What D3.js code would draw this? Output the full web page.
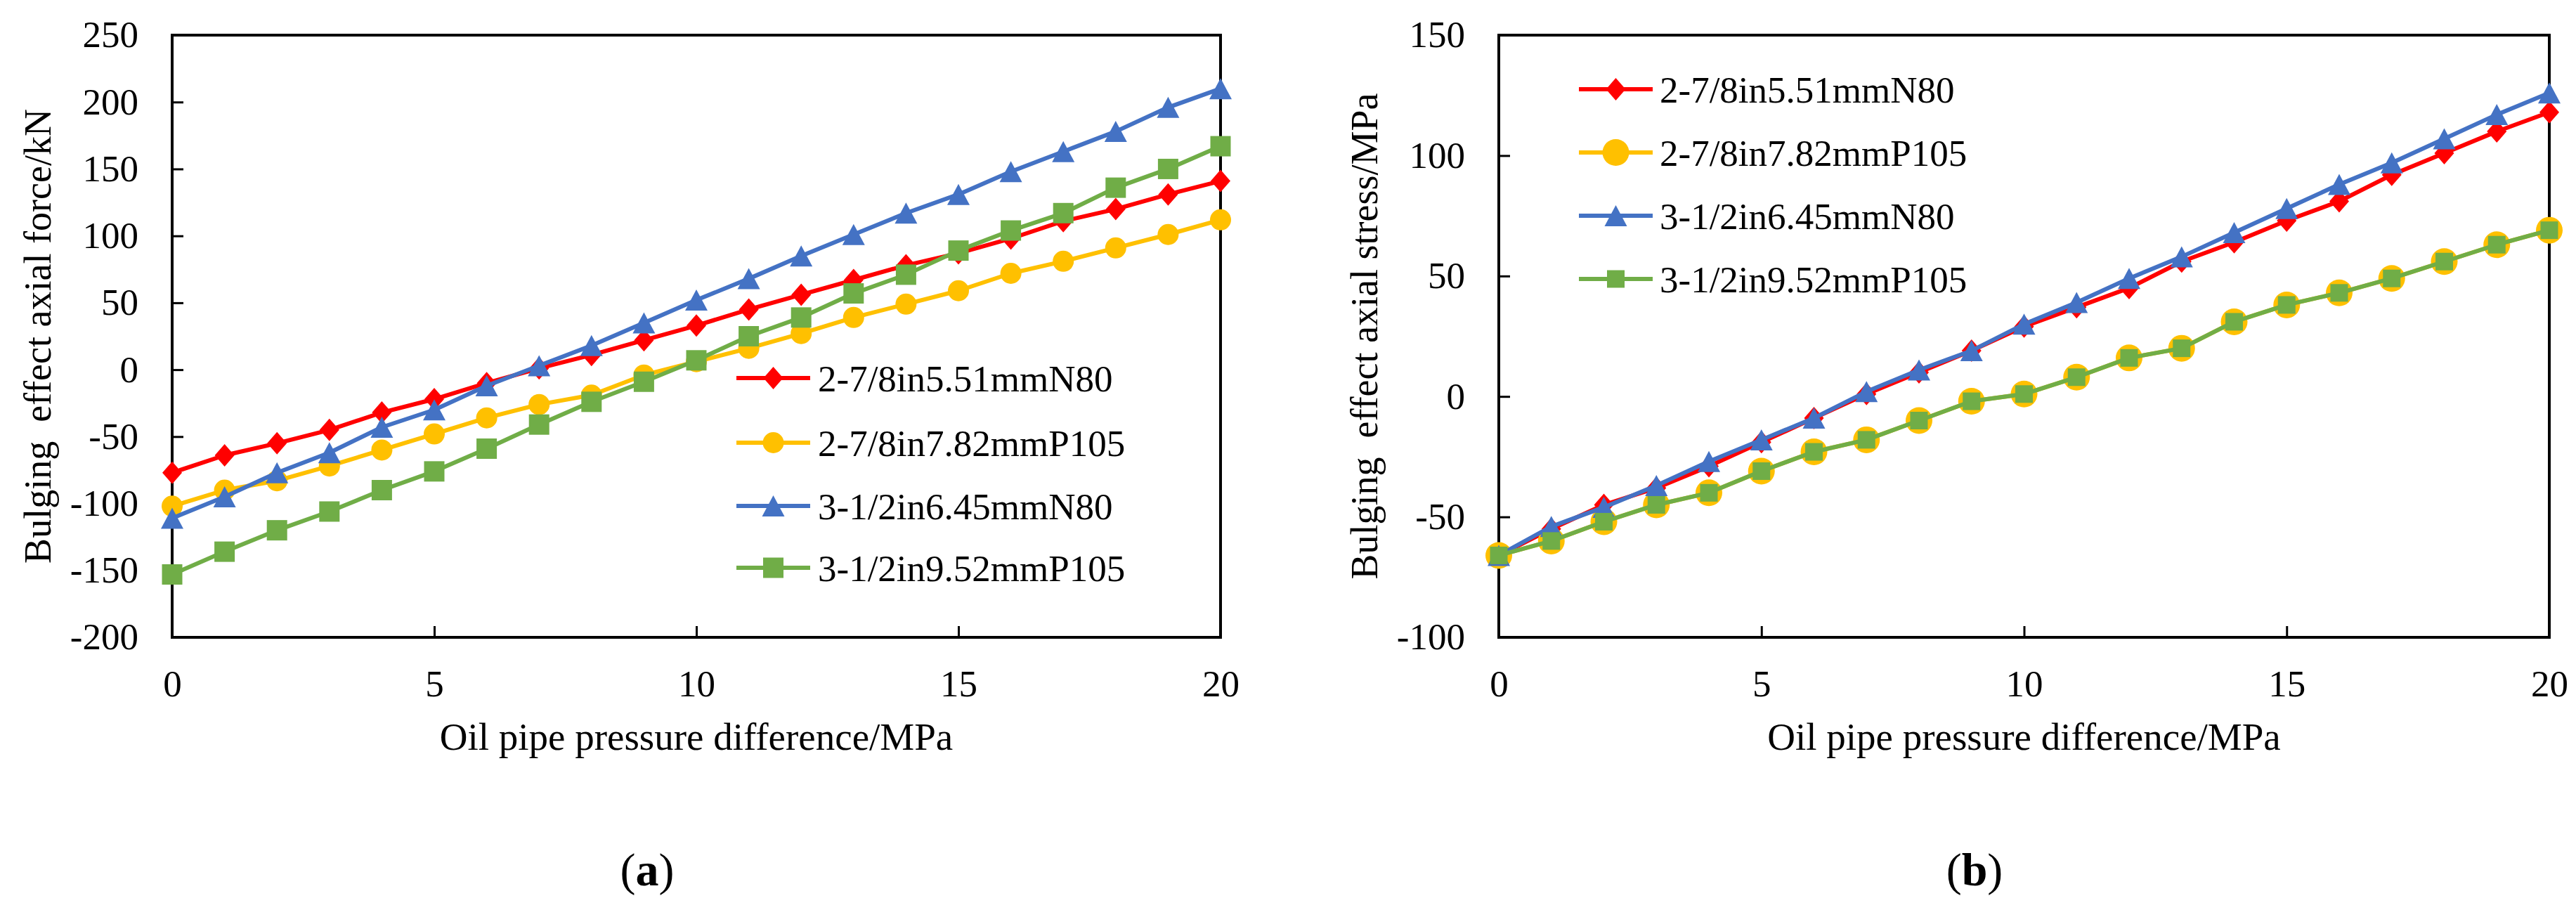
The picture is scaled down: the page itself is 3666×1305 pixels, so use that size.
<!DOCTYPE html>
<html><head><meta charset="utf-8">
<script src="https://cdn.jsdelivr.net/npm/d3@7/dist/d3.min.js"></script>
<style>
html,body{margin:0;padding:0;background:#fff;}
svg{display:block;}
text{font-family:"Liberation Serif","Times New Roman",serif;fill:#000;}
</style>
</head><body>
<svg id="chart" width="3666" height="1305"></svg>
<script>
// ---------- data ----------
const pressure = [0,1,2,3,4,5,6,7,8,9,10,11,12,13,14,15,16,17,18,19,20];
const seriesNames = ["2-7/8in5.51mmN80","2-7/8in7.82mmP105","3-1/2in6.45mmN80","3-1/2in9.52mmP105"];
const seriesColors = ["#FF0000","#FFC000","#4472C4","#70AD47"];

// (a) axial force, kN
const forceN80a  = [-77,-64,-55,-45,-32,-22,-10,1,11,22,33,45,56,67,78,87,98,111,120,131,141];
const forceP105a = [-102,-90,-83,-72,-60,-48,-36,-26,-19,-4,6,16,27,39,49,59,72,81,91,101,112];
const forceN80b  = [-111,-95,-77,-62,-43,-30,-12,3,18,35,52,68,85,101,117,131,148,163,178,196,210];
const forceP105b = [-153,-136,-120,-106,-90,-76,-59,-41,-24,-9,7,25,39,57,71,89,104,117,136,150,167];

// (b) axial stress, MPa
const stressN80a  = [-66,-55,-45,-38,-29,-19,-9,1,10,19,29,37,45,56,64,73,81,92,101,110,118];
const stressP105a = [-66,-60,-52,-45,-40,-31,-23,-18,-10,-2,1,8,16,20,31,38,43,49,56,63,69];
const stressN80b  = [-66,-54,-46,-37,-27,-18,-9,2,11,19,30,39,49,58,68,78,88,97,107,117,126];
const stressP105b = [-66,-60,-52,-45,-40,-31,-23,-18,-10,-2,1,8,16,20,31,38,43,49,56,63,69];

const xTicks = [0,5,10,15,20];
const forceTicks = [-200,-150,-100,-50,0,50,100,150,200,250];
const stressTicks = [-100,-50,0,50,100,150];

const xTitle = "Oil pipe pressure difference/MPa";
const forceTitle = "Bulging  effect axial force/kN";
const stressTitle = "Bulging  effect axial stress/MPa";

// ---------- marker shapes ----------
function diamond(w,h){return {draw(c){c.moveTo(0,-h/2);c.lineTo(w/2,0);c.lineTo(0,h/2);c.lineTo(-w/2,0);c.closePath();}};}
function tri(w,h){return {draw(c){c.moveTo(0,-h/2);c.lineTo(w/2,h/2);c.lineTo(-w/2,h/2);c.closePath();}};}
function sq(s){return {draw(c){c.rect(-s/2,-s/2,s,s);}};}
function circ(d){return {draw(c){c.moveTo(d/2,0);c.arc(0,0,d/2,0,2*Math.PI);}};}

const svg = d3.select("#chart");
const FS = 53;
const fmt = d => String(d); // plain hyphen-minus like the original

const panels = [
  {x0:245,x1:1737,y0:50,y1:907,domain:[-200,250],yTicks:forceTicks,
   data:[forceN80a,forceP105a,forceN80b,forceP105b],
   shapes:[diamond(28,32),circ(30),tri(32,30),sq(29)],
   yTitle:forceTitle,yTitleX:72,
   legX:1048,legTextX:1164,legY:[538,630,720,808],
   label:"a",labelX:921},
  {x0:2133,x1:3628,y0:50,y1:907,domain:[-100,150],yTicks:stressTicks,
   data:[stressN80a,stressP105a,stressN80b,stressP105b],
   shapes:[diamond(28,32),circ(38),tri(32,30),sq(25)],
   yTitle:stressTitle,yTitleX:1960,
   legX:2247,legTextX:2362,legY:[127,217,307,397],
   label:"b",labelX:2810}
];

panels.forEach(p=>{
  const x = d3.scaleLinear().domain([0,20]).range([p.x0,p.x1]);
  const y = d3.scaleLinear().domain(p.domain).range([p.y1,p.y0]);
  const g = svg.append("g");

  // axes (inward ticks)
  const xa = g.append("g").attr("transform",`translate(0,${p.y1})`)
    .call(d3.axisBottom(x).tickValues(xTicks).tickSize(-16).tickPadding(46).tickFormat(fmt));
  const ya = g.append("g").attr("transform",`translate(${p.x0},0)`)
    .call(d3.axisLeft(y).tickValues(p.yTicks).tickSize(-16).tickPadding(48).tickFormat(fmt));
  [xa,ya].forEach(a=>{
    a.select(".domain").remove();
    a.selectAll(".tick line").attr("stroke","#000").attr("stroke-width",3);
    a.selectAll(".tick text").attr("font-size",FS).attr("font-family","Liberation Serif, serif").attr("fill","#000");
  });

  // frame
  g.append("rect").attr("x",p.x0).attr("y",p.y0).attr("width",p.x1-p.x0).attr("height",p.y1-p.y0)
    .attr("fill","none").attr("stroke","#000").attr("stroke-width",4);

  // series
  const line = d3.line().x((d,i)=>x(pressure[i])).y(d=>y(d));
  p.data.forEach((vals,si)=>{
    const sg = g.append("g");
    sg.append("path").datum(vals).attr("d",line).attr("fill","none")
      .attr("stroke",seriesColors[si]).attr("stroke-width",6).attr("stroke-linejoin","round");
    sg.selectAll("path.m").data(vals).enter().append("path").attr("class","m")
      .attr("d",d3.symbol().type(p.shapes[si]).size(1))
      .attr("transform",(d,i)=>`translate(${x(pressure[i])},${y(d)})`)
      .attr("fill",seriesColors[si]);
  });

  // legend
  seriesNames.forEach((name,si)=>{
    const ly = p.legY[si];
    g.append("line").attr("x1",p.legX).attr("x2",p.legX+105).attr("y1",ly).attr("y2",ly)
      .attr("stroke",seriesColors[si]).attr("stroke-width",6);
    g.append("path").attr("d",d3.symbol().type(p.shapes[si]).size(1))
      .attr("transform",`translate(${p.legX+52.5},${ly})`).attr("fill",seriesColors[si]);
    g.append("text").attr("x",p.legTextX).attr("y",ly).attr("dy","0.35em")
      .attr("font-size",FS).text(name);
  });

  // titles
  g.append("text").attr("x",(p.x0+p.x1)/2).attr("y",1067).attr("text-anchor","middle")
    .attr("font-size",55).text(xTitle);
  g.append("text").attr("transform",`translate(${p.yTitleX},${(p.y0+p.y1)/2}) rotate(-90)`)
    .attr("text-anchor","middle").attr("font-size",54).style("white-space","pre").text(p.yTitle);

  // panel label
  const lt = g.append("text").attr("x",p.labelX).attr("y",1260).attr("text-anchor","middle").attr("font-size",66);
  lt.append("tspan").text("(");
  lt.append("tspan").attr("font-weight","bold").text(p.label);
  lt.append("tspan").text(")");
});
</script>
</body></html>
